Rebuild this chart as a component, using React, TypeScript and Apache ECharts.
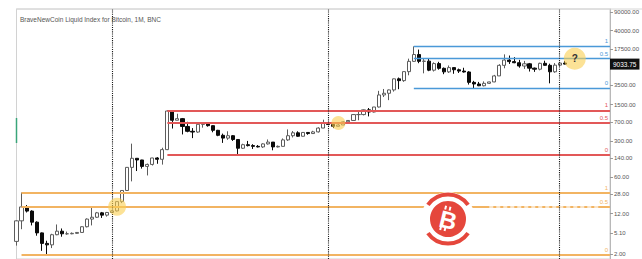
import { useEffect, useRef } from "react";
import * as echarts from "echarts";

const TITLE = "BraveNewCoin Liquid Index for Bitcoin, 1M, BNC";
const FIRST_YEAR = 2011;
const FIRST_MONTH = 5;
const MONTH_COUNT = 119;

// monthly candles: [open, close, low, high]
const ohlc2011 = [
  [3.5, 8.7, 2.9, 8.9],
  [8.7, 16.1, 6.0, 30.5],
  [16.1, 13.4, 12.6, 17.5],
  [13.4, 8.2, 7.1, 13.9],
  [8.2, 5.1, 4.5, 8.5],
  [5.1, 3.2, 2.3, 5.2],
  [3.2, 3.0, 1.95, 3.6],
  [3.0, 4.7, 2.6, 4.9],
];
const ohlc2012 = [
  [4.7, 5.5, 4.6, 7.4],
  [5.5, 4.9, 4.3, 6.2],
  [4.9, 4.9, 4.7, 5.4],
  [4.9, 5.0, 4.8, 5.2],
  [5.0, 5.2, 4.9, 5.3],
  [5.2, 6.7, 5.2, 6.8],
  [6.7, 9.4, 6.5, 9.7],
  [9.4, 10.2, 7.1, 15.4],
  [10.2, 12.4, 9.9, 12.9],
  [12.4, 11.2, 9.9, 12.9],
  [11.2, 12.6, 10.5, 12.9],
  [12.6, 13.5, 12.3, 13.8],
];
const ohlc2013 = [
  [13.5, 20.4, 13.2, 20.6],
  [20.4, 33.4, 19.1, 33.6],
  [33.4, 93, 33, 94],
  [93, 139, 50, 266],
  [139, 129, 79, 140],
  [129, 97, 88, 130],
  [97, 106, 65, 110],
  [106, 141, 101, 142],
  [141, 133, 109, 146],
  [133, 204, 105, 222],
  [204, 1130, 200, 1166],
  [1130, 750, 520, 1150],
];
const ohlc2014 = [
  [750, 805, 750, 1000],
  [805, 570, 400, 830],
  [570, 460, 440, 700],
  [460, 445, 340, 530],
  [445, 627, 430, 630],
  [627, 637, 540, 680],
  [637, 590, 565, 650],
  [590, 480, 440, 600],
  [480, 385, 370, 490],
  [385, 340, 275, 415],
  [340, 378, 315, 460],
  [378, 320, 300, 390],
];
const ohlc2015 = [
  [320, 217, 163, 320],
  [217, 254, 210, 265],
  [254, 244, 235, 300],
  [244, 236, 210, 260],
  [236, 230, 225, 250],
  [230, 263, 220, 270],
  [263, 285, 255, 320],
  [285, 230, 198, 285],
  [230, 236, 225, 245],
  [236, 314, 236, 335],
  [314, 378, 300, 500],
  [378, 430, 350, 465],
];
const ohlc2016 = [
  [430, 369, 360, 460],
  [369, 437, 365, 440],
  [437, 416, 395, 440],
  [416, 448, 412, 470],
  [448, 531, 435, 550],
  [531, 673, 530, 770],
  [673, 624, 600, 700],
  [624, 574, 530, 630],
  [574, 609, 574, 630],
  [609, 700, 605, 720],
  [700, 743, 690, 755],
  [743, 964, 740, 980],
];
const ohlc2017 = [
  [964, 965, 750, 1150],
  [965, 1190, 930, 1210],
  [1190, 1080, 890, 1290],
  [1080, 1350, 1060, 1350],
  [1350, 2300, 1320, 2760],
  [2300, 2480, 2100, 3000],
  [2480, 2875, 1830, 2930],
  [2875, 4700, 2670, 4750],
  [4700, 4340, 2970, 4980],
  [4340, 6470, 4110, 6480],
  [6470, 10200, 5500, 11500],
  [10200, 13800, 10000, 19800],
];
const ohlc2018 = [
  [13800, 10200, 9400, 17200],
  [10200, 10300, 6000, 11800],
  [10300, 6900, 6600, 11700],
  [6900, 9240, 6500, 9750],
  [9240, 7490, 7050, 9990],
  [7490, 6400, 5780, 7760],
  [6400, 7730, 6100, 8500],
  [7730, 7030, 5880, 7760],
  [7030, 6630, 6100, 7400],
  [6630, 6370, 6200, 7680],
  [6370, 4020, 3650, 6600],
  [4020, 3740, 3130, 4300],
];
const ohlc2019 = [
  [3740, 3460, 3400, 4100],
  [3460, 3850, 3370, 4200],
  [3850, 4100, 3750, 4140],
  [4100, 5350, 4050, 5600],
  [5350, 8550, 5330, 9000],
  [8550, 10800, 7500, 13900],
  [10800, 10080, 9100, 13200],
  [10080, 9600, 9400, 12300],
  [9600, 8300, 7700, 10900],
  [8300, 9150, 7300, 10400],
  [9150, 7550, 6500, 9500],
  [7550, 7200, 6400, 7750],
];
const ohlc2020 = [
  [7200, 9350, 6850, 9600],
  [9350, 8550, 8450, 10500],
  [8550, 6420, 3850, 9200],
  [6420, 8630, 6150, 9450],
  [8630, 9450, 8100, 10050],
  [9450, 9033.75, 8900, 10400],
];

const LAST_PRICE = 9033.75;
const Y_TICKS = [2, 5.1, 12, 28, 60, 140, 300, 700, 1500, 3500, 17500, 40000, 90000];
const Y_MIN = 1.603;
const Y_MAX = 103800;

// Fibonacci retracements (orange, red, blue)
const FIB_LEVELS = [1, 0.5, 0];
const FIB_START = ["2011-06", "2013-11", "2017-12"];
const FIB_LOW = [1.95, 163, 3130];
const FIB_HIGH = [30.5, 1166, 19800];

const HALVING_MARKS = ["2012-12", "2016-07", "2020-05"];
const HIGHLIGHT_MONTHS = ["2013-01", "2016-09", "2020-08"];
const HIGHLIGHT_TEXT = ["", "", "?"];

function buildMonths(): string[] {
  const out: string[] = [];
  for (let i = 0; i < MONTH_COUNT; i++) {
    const m = FIRST_MONTH - 1 + i;
    const y = FIRST_YEAR + Math.floor(m / 12);
    out.push(`${y}-${String((m % 12) + 1).padStart(2, "0")}`);
  }
  return out;
}

const FIB_COLORS = ["#f2b462", "#e25858", "#4a99d8"];
const FIB_WIDTHS = [2, 2, 1.3];
const RED = "#e5473c";

export default function App() {
  const ref = useRef<HTMLDivElement>(null);
  useEffect(() => {
    if (!ref.current) return;
    const chart = echarts.init(ref.current, undefined, { renderer: "svg" });
    const months = buildMonths();
    const lastCat = months[months.length - 1];
    const candles = [
      ...ohlc2011, ...ohlc2012, ...ohlc2013, ...ohlc2014, ...ohlc2015,
      ...ohlc2016, ...ohlc2017, ...ohlc2018, ...ohlc2019, ...ohlc2020,
    ];
    const fibValue = (k: number, lv: number) => FIB_LOW[k] + (FIB_HIGH[k] - FIB_LOW[k]) * lv;

    const lines: any[] = [];
    FIB_START.forEach((start, k) => {
      FIB_LEVELS.forEach((lv) => {
        const v = fibValue(k, lv);
        lines.push([
          {
            coord: [start, v],
            lineStyle: { color: FIB_COLORS[k], width: FIB_WIDTHS[k], type: "solid", opacity: 1 },
            label: {
              show: true,
              position: "insideEndTop",
              formatter: String(lv),
              color: FIB_COLORS[k],
              fontSize: 6,
              distance: 2,
            },
          },
          { coord: [lastCat, v] },
        ]);
      });
    });
    // watermark streak over the orange 0.5 line
    lines.push([
      {
        coord: ["2019-03", fibValue(0, 0.5)],
        lineStyle: { color: "#ffffff", width: 1.6, type: [4, 3], opacity: 0.85 },
        label: { show: false },
      },
      { coord: ["2021-01", fibValue(0, 0.5)] },
    ]);
    HALVING_MARKS.forEach((m) => {
      lines.push({
        xAxis: m,
        lineStyle: { color: "#1a1a1a", width: 1.1, type: "dotted", opacity: 1 },
        label: { show: false },
      });
    });
    lines.push({
      yAxis: LAST_PRICE,
      lineStyle: { color: "rgba(0,0,0,0)", width: 1, opacity: 1 },
      label: {
        show: true,
        position: "end",
        distance: 0,
        formatter: LAST_PRICE.toFixed(2),
        backgroundColor: "#111111",
        color: "#ffffff",
        fontSize: 6.5,
        padding: [2, 3, 2, 3],
        opacity: 1,
      },
    });

    const points = HIGHLIGHT_MONTHS.map((m, k) => ({
      coord: [m, fibValue(k, 0.5)],
      symbolSize: [18, 14, 22][k],
      label: {
        show: HIGHLIGHT_TEXT[k] !== "",
        formatter: HIGHLIGHT_TEXT[k],
        color: "#333333",
        fontSize: 10,
        fontWeight: "bold",
      },
    }));

    const deg = Math.PI / 180;
    chart.setOption({
      animation: false,
      textStyle: { fontFamily: "Liberation Sans, Arial, sans-serif" },
      title: {
        text: TITLE,
        left: 20,
        top: 16,
        padding: 0,
        textStyle: { fontSize: 6.5, color: "#555555", fontWeight: "normal" },
      },
      grid: {
        left: 16.5,
        right: 29,
        top: 9,
        bottom: -1,
        show: true,
        borderColor: "#d2d2d2",
        borderWidth: 1,
      },
      xAxis: {
        type: "category",
        data: months,
        boundaryGap: false,
        show: false,
      },
      yAxis: {
        type: "log",
        logBase: 10,
        position: "right",
        min: Y_MIN,
        max: Y_MAX,
        axisLine: { show: true, lineStyle: { color: "#b8b8b8" } },
        axisTick: { show: true, length: 3, lineStyle: { color: "#999999" }, customValues: Y_TICKS },
        splitLine: { show: false },
        axisLabel: {
          customValues: Y_TICKS,
          formatter: (v: number) => Number(v).toFixed(2),
          fontSize: 6,
          color: "#555555",
          margin: 4,
        },
      },
      series: [
        {
          type: "candlestick",
          data: candles,
          barWidth: 3.6,
          itemStyle: {
            color: "#ffffff",
            color0: "#0a0a0a",
            borderColor: "#5c5c5c",
            borderColor0: "#0a0a0a",
            borderWidth: 1,
          },
          markLine: {
            silent: true,
            symbol: ["none", "none"],
            animation: false,
            data: lines,
          },
          markPoint: {
            silent: true,
            symbol: "circle",
            animation: false,
            itemStyle: { color: "rgba(250, 206, 80, 0.6)" },
            data: points,
          },
        },
      ],
      graphic: [
        { type: "line", z: 50, shape: { x1: 16, y1: 9, x2: 642, y2: 9 }, style: { stroke: "#d6d6d6", lineWidth: 1 } },
        { type: "line", z: 50, shape: { x1: 16.5, y1: 118, x2: 16.5, y2: 143 }, style: { stroke: "#3aa57a", lineWidth: 1.5 } },
        {
          type: "group",
          x: 448,
          y: 219,
          z: 100,
          children: [
            { type: "circle", z: 100, shape: { cx: 0, cy: 0, r: 27 }, style: { fill: "#ffffff" } },
            {
              type: "arc",
              z: 101,
              shape: { cx: 0, cy: 0, r: 24.5, startAngle: -145 * deg, endAngle: -35 * deg, clockwise: true },
              style: { stroke: RED, lineWidth: 4, fill: "none" },
            },
            {
              type: "arc",
              z: 101,
              shape: { cx: 0, cy: 0, r: 24.5, startAngle: 35 * deg, endAngle: 145 * deg, clockwise: true },
              style: { stroke: RED, lineWidth: 4, fill: "none" },
            },
            { type: "circle", z: 101, shape: { cx: 0, cy: 0, r: 18 }, style: { fill: RED } },
            {
              type: "group",
              rotation: -0.24,
              children: [
                {
                  type: "text",
                  z: 102,
                  style: {
                    text: "B",
                    x: 0.5,
                    y: 1,
                    align: "center",
                    verticalAlign: "middle",
                    fontSize: 24,
                    fontWeight: "bold",
                    fontFamily: "Liberation Sans, Arial, sans-serif",
                    fill: "#ffffff",
                  },
                },
                { type: "rect", z: 102, shape: { x: -6, y: -12.5, width: 2, height: 4 }, style: { fill: "#ffffff" } },
                { type: "rect", z: 102, shape: { x: -1.5, y: -12.5, width: 2, height: 4 }, style: { fill: "#ffffff" } },
                { type: "rect", z: 102, shape: { x: -6, y: 8.5, width: 2, height: 4 }, style: { fill: "#ffffff" } },
                { type: "rect", z: 102, shape: { x: -1.5, y: 8.5, width: 2, height: 4 }, style: { fill: "#ffffff" } },
              ],
            },
          ],
        },
      ],
    });
    return () => chart.dispose();
  }, []);
  return (
    <div
      ref={ref}
      style={{ position: "fixed", left: 0, top: 0, width: 642, height: 259, background: "#ffffff" }}
    />
  );
}
